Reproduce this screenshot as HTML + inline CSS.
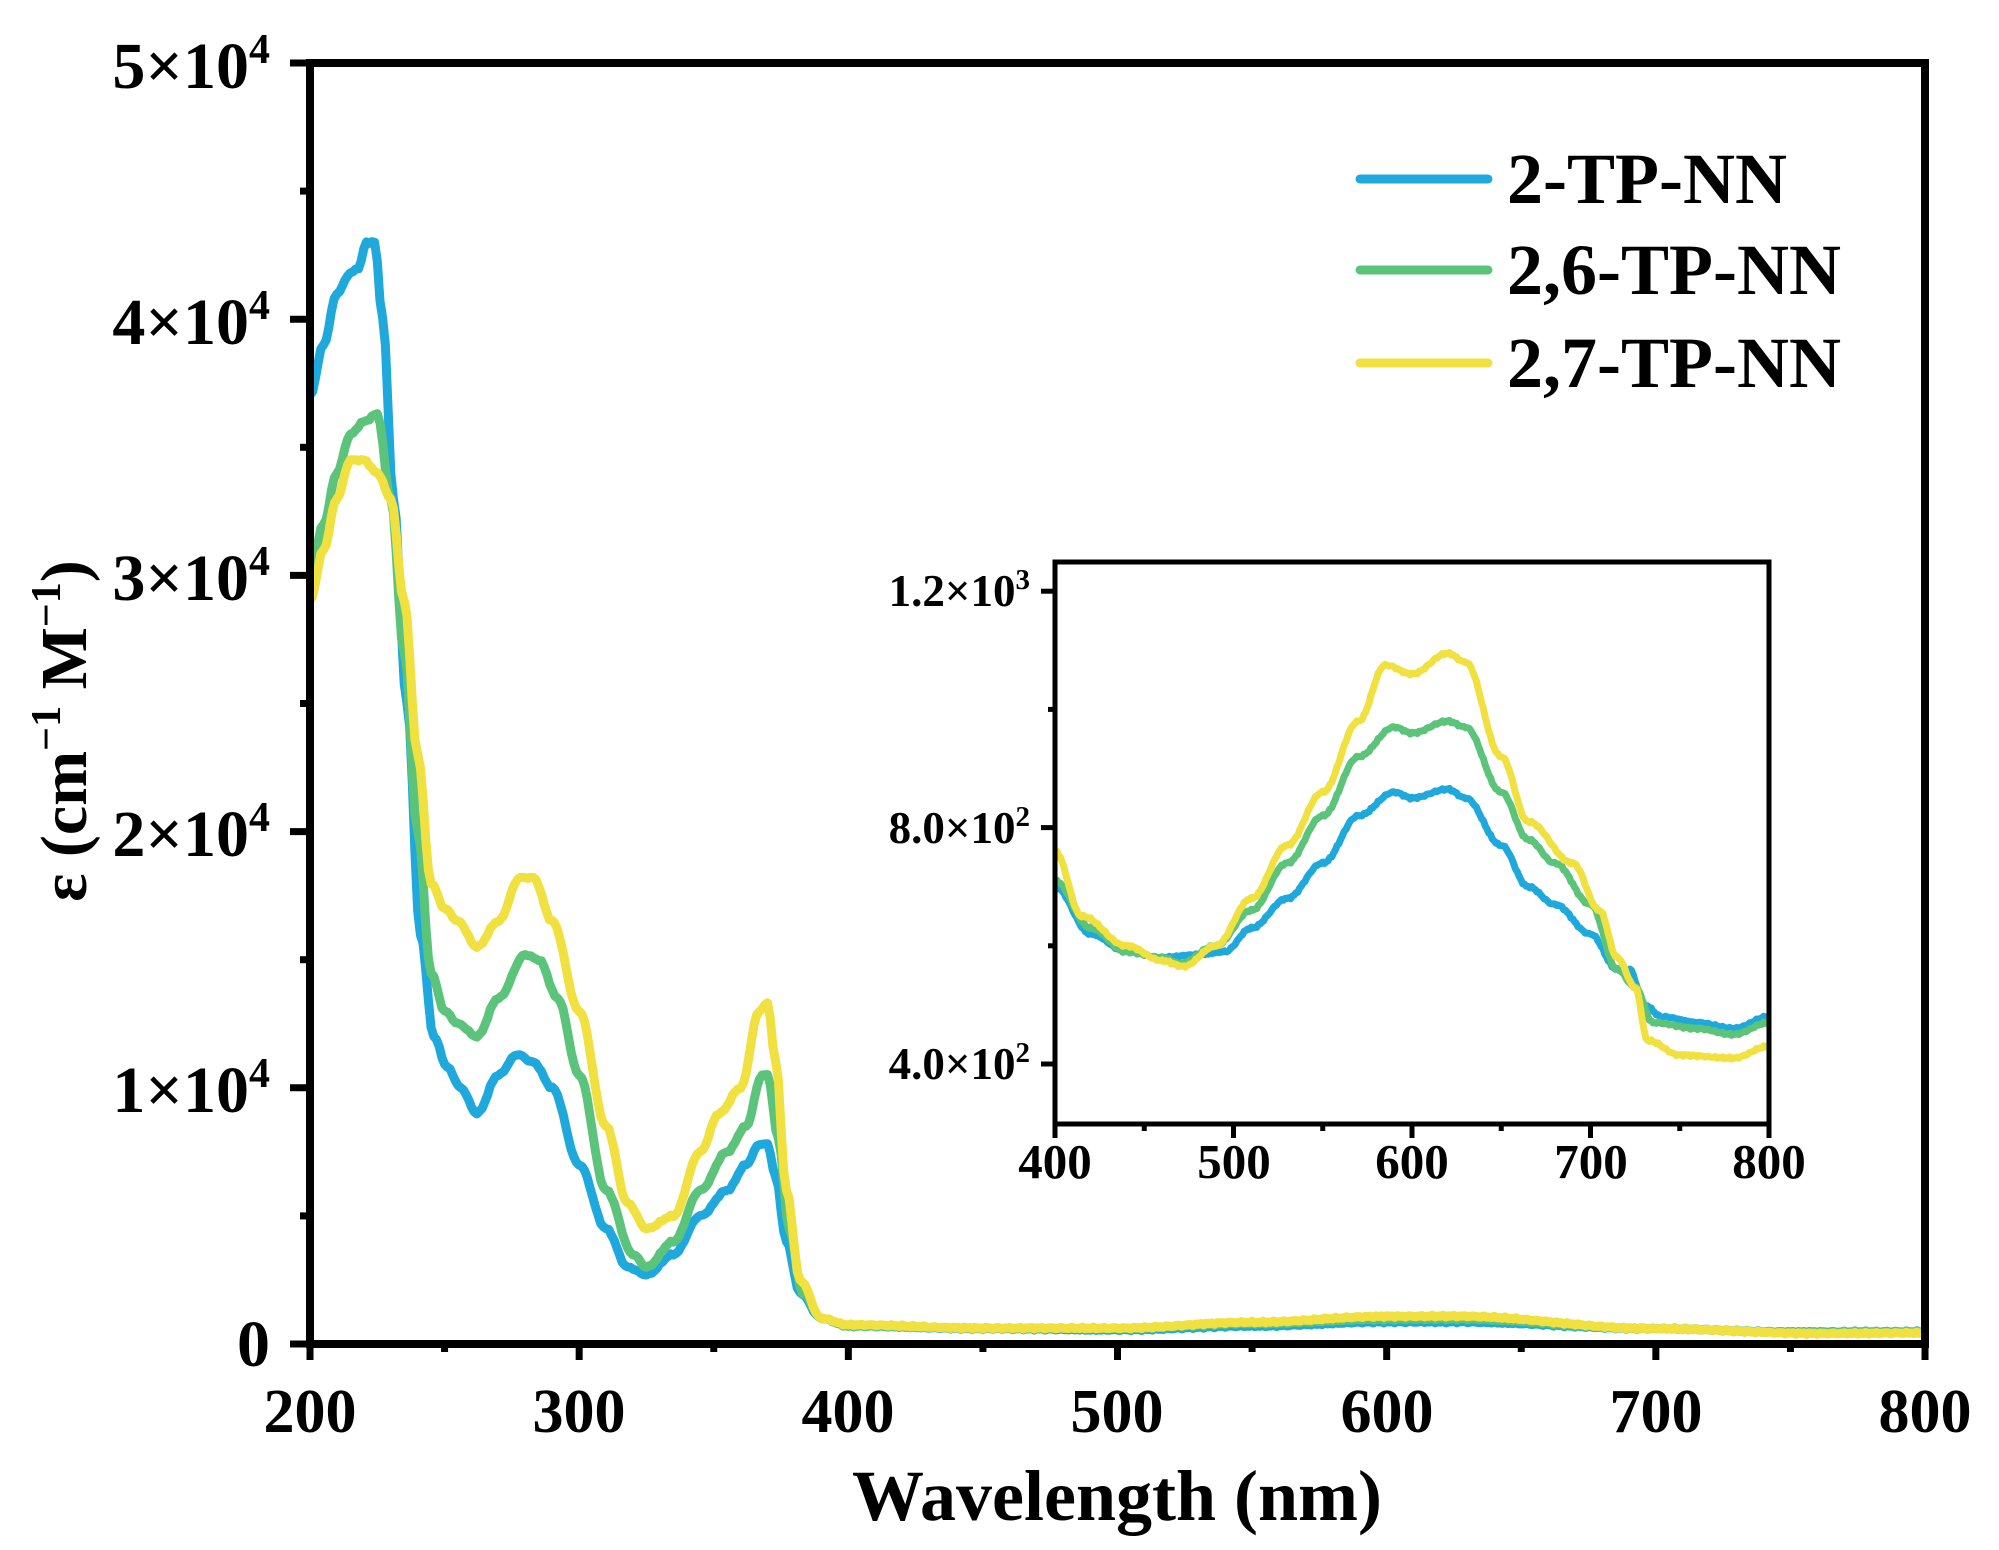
<!DOCTYPE html>
<html><head><meta charset="utf-8"><style>
html,body{margin:0;padding:0;background:#fff;}
svg{display:block;font-family:"Liberation Serif",serif;font-weight:bold;}
</style></head><body>
<svg id="s" width="1999" height="1550" viewBox="0 0 1999 1550" xmlns="http://www.w3.org/2000/svg">
<rect width="1999" height="1550" fill="#fff"/>
<g id="main"></g>
<g id="ins"></g>
<rect x="310" y="63" width="1615" height="1281" fill="none" stroke="#000" stroke-width="8"/>
<rect x="1055" y="562" width="714" height="562" fill="none" stroke="#000" stroke-width="5"/>
<g id="ticks" stroke="#000"></g>
<g font-size="66" text-anchor="end">
<text x="270" y="88">5×10<tspan dy="-25" font-size="42">4</tspan></text>
<text x="270" y="344">4×10<tspan dy="-25" font-size="42">4</tspan></text>
<text x="270" y="600">3×10<tspan dy="-25" font-size="42">4</tspan></text>
<text x="270" y="856">2×10<tspan dy="-25" font-size="42">4</tspan></text>
<text x="270" y="1112">1×10<tspan dy="-25" font-size="42">4</tspan></text>
<text x="270" y="1366">0</text>
</g>
<g font-size="62" text-anchor="middle">
<text x="310" y="1432">200</text><text x="579" y="1432">300</text><text x="848" y="1432">400</text>
<text x="1117" y="1432">500</text><text x="1387" y="1432">600</text><text x="1656" y="1432">700</text><text x="1925" y="1432">800</text>
</g>
<text x="1117" y="1520" font-size="72" text-anchor="middle">Wavelength (nm)</text>
<text transform="translate(86,731) rotate(-90)" font-size="66" text-anchor="middle">ε (cm<tspan dy="-26" font-size="42">−1</tspan><tspan dy="26"> M</tspan><tspan dy="-26" font-size="42">−1</tspan><tspan dy="26">)</tspan></text>
<g font-size="45" text-anchor="end">
<text x="1030" y="606">1.2×10<tspan dy="-17" font-size="29">3</tspan></text>
<text x="1030" y="843">8.0×10<tspan dy="-17" font-size="29">2</tspan></text>
<text x="1030" y="1079">4.0×10<tspan dy="-17" font-size="29">2</tspan></text>
</g>
<g font-size="49" text-anchor="middle">
<text x="1055" y="1178">400</text><text x="1234" y="1178">500</text><text x="1412" y="1178">600</text><text x="1591" y="1178">700</text><text x="1769" y="1178">800</text>
</g>
<g stroke-width="9" stroke-linecap="round">
<line x1="1360" y1="179" x2="1488" y2="179" stroke="#1fa8dc"/>
<line x1="1360" y1="270" x2="1488" y2="270" stroke="#5cc47a"/>
<line x1="1360" y1="363" x2="1488" y2="363" stroke="#f0e040"/>
</g>
<g font-size="72">
<text x="1507" y="203">2-TP-NN</text>
<text x="1507" y="294">2,6-TP-NN</text>
<text x="1507" y="387">2,7-TP-NN</text>
</g>
</svg>
<script>
var NS="http://www.w3.org/2000/svg";
function mx(n){return 310+(n-200)*2.6917;}
function my(v){return 1344-v*25.62;}
function ix(n){return 1055+(n-400)*1.785;}
function iy(v){return 1064-(v-400)*0.591;}
function interp(d,n){for(var i=0;i<d.length-1;i++){if(n>=d[i][0]&&n<=d[i+1][0]){var t=(n-d[i][0])/(d[i+1][0]-d[i][0]);var u=(1-Math.cos(Math.PI*t))/2;return d[i][1]*(1-u)+d[i+1][1]*u;}}return d[d.length-1][1];}
function path(g,d,fx,fy,x0,x1,col,w,noise){var s="";for(var n=x0;n<=x1;n+=1){var v=interp(d,n)+(noise?noise*Math.sin(n*2.3)*Math.sin(n*0.7):0);s+=(n==x0?"M":"L")+fx(n).toFixed(1)+","+fy(v).toFixed(1);}var p=document.createElementNS(NS,"path");p.setAttribute("d",s);p.setAttribute("fill","none");p.setAttribute("stroke",col);p.setAttribute("stroke-width",w);p.setAttribute("stroke-linejoin","round");document.getElementById(g).appendChild(p);}
var B=[[200,37],[205,39],[210,41],[215,41.8],[218,42],[221,43],[224,43],[227,40],[231,33],[236,25],[241,16],[246,12],[251,10.8],[256,10],[262,9],[270,10.5],[277,11.3],[283,11],[290,10],[300,7],[310,4.5],[318,3],[325,2.7],[335,3.5],[345,5],[355,6],[362,7],[367,7.8],[370,7.8],[373,6.5],[377,4],[382,2],[390,1],[400,0.7],[450,0.6],[500,0.55],[550,0.7],[600,0.86],[625,0.86],[700,0.6],[750,0.47],[800,0.48]];
var G=[[200,30],[205,32],[210,34],[215,35.5],[220,36],[225,36.3],[230,33],[235,27],[240,20],[245,14.5],[250,13],[255,12.5],[262,12],[270,13.5],[280,15.2],[285,15],[292,13.5],[300,10.5],[310,6],[320,3.5],[325,3.0],[335,4],[345,6],[355,7.5],[362,8.5],[368,10.5],[370,10.5],[374,8],[378,4.5],[383,2],[390,1],[400,0.7],[450,0.62],[500,0.6],[550,0.8],[600,0.97],[625,0.98],[700,0.6],[750,0.45],[800,0.47]];
var Y=[[200,29],[205,31],[210,33],[215,34.5],[220,34.5],[225,34],[230,33],[235,29],[240,23],[245,18],[250,17],[255,16.5],[262,15.5],[270,16.5],[278,18.2],[283,18.2],[290,16.5],[300,13],[310,8.5],[318,5.5],[325,4.5],[335,5],[345,7.5],[352,9],[360,10],[367,13],[370,13.3],[373,11],[377,6],[382,2.5],[390,1],[400,0.75],[450,0.62],[500,0.62],[550,0.85],[600,1.08],[625,1.09],[700,0.6],[760,0.41],[800,0.43]];
path("main",B,mx,my,200,800,"#1fa8dc",9,0.04);
path("main",G,mx,my,200,800,"#5cc47a",9,0.04);
path("main",Y,mx,my,200,800,"#f0e040",9,0.04);
var IB=[[400,700],[420,620],[440,590],[460,580],[480,585],[495,590],[510,630],[530,680],[550,740],[570,820],[590,860],[600,850],[620,865],[630,850],[650,770],[665,700],[680,670],[700,620],[715,560],[722,560],[730,500],[740,480],[760,470],[780,460],[800,480]];
var IG=[[400,710],[420,630],[440,590],[460,580],[470,570],[490,600],[510,660],[530,740],[550,820],[570,920],[590,970],[600,960],[620,980],[630,970],[650,860],[665,780],[680,740],[700,670],[715,560],[725,530],[735,470],[760,460],[780,450],[800,470]];
var IY=[[400,760],[415,650],[440,600],[460,575],[472,565],[490,600],[510,680],[530,770],[550,860],[570,980],[585,1075],[600,1060],[620,1095],[630,1080],[650,920],[665,810],[690,740],[705,660],[715,580],[725,530],[732,440],[750,415],[780,410],[800,430]];
path("ins",IB,ix,iy,400,800,"#1fa8dc",7,2);
path("ins",IG,ix,iy,400,800,"#5cc47a",7,2);
path("ins",IY,ix,iy,400,800,"#f0e040",7,2);
var T=document.getElementById("ticks");
function ln(a,b,c,d,w){var l=document.createElementNS(NS,"line");l.setAttribute("x1",a);l.setAttribute("y1",b);l.setAttribute("x2",c);l.setAttribute("y2",d);l.setAttribute("stroke-width",w);T.appendChild(l);}
for(var n=200;n<=800;n+=50){var x=mx(n);ln(x,1344,x,n%100==0?1360:1352,7);}
for(var v=0;v<=50;v+=5){var y=my(v);ln(310,y,v%10==0?290:300,y,7);}
for(var n=400;n<=800;n+=50){var x=ix(n);ln(x,1124,x,n%100==0?1138:1131,5);}
for(var v=400;v<=1200;v+=200){var y=iy(v);ln(1055,y,v%400==0?1041:1048,y,5);}
</script>
</body></html>
